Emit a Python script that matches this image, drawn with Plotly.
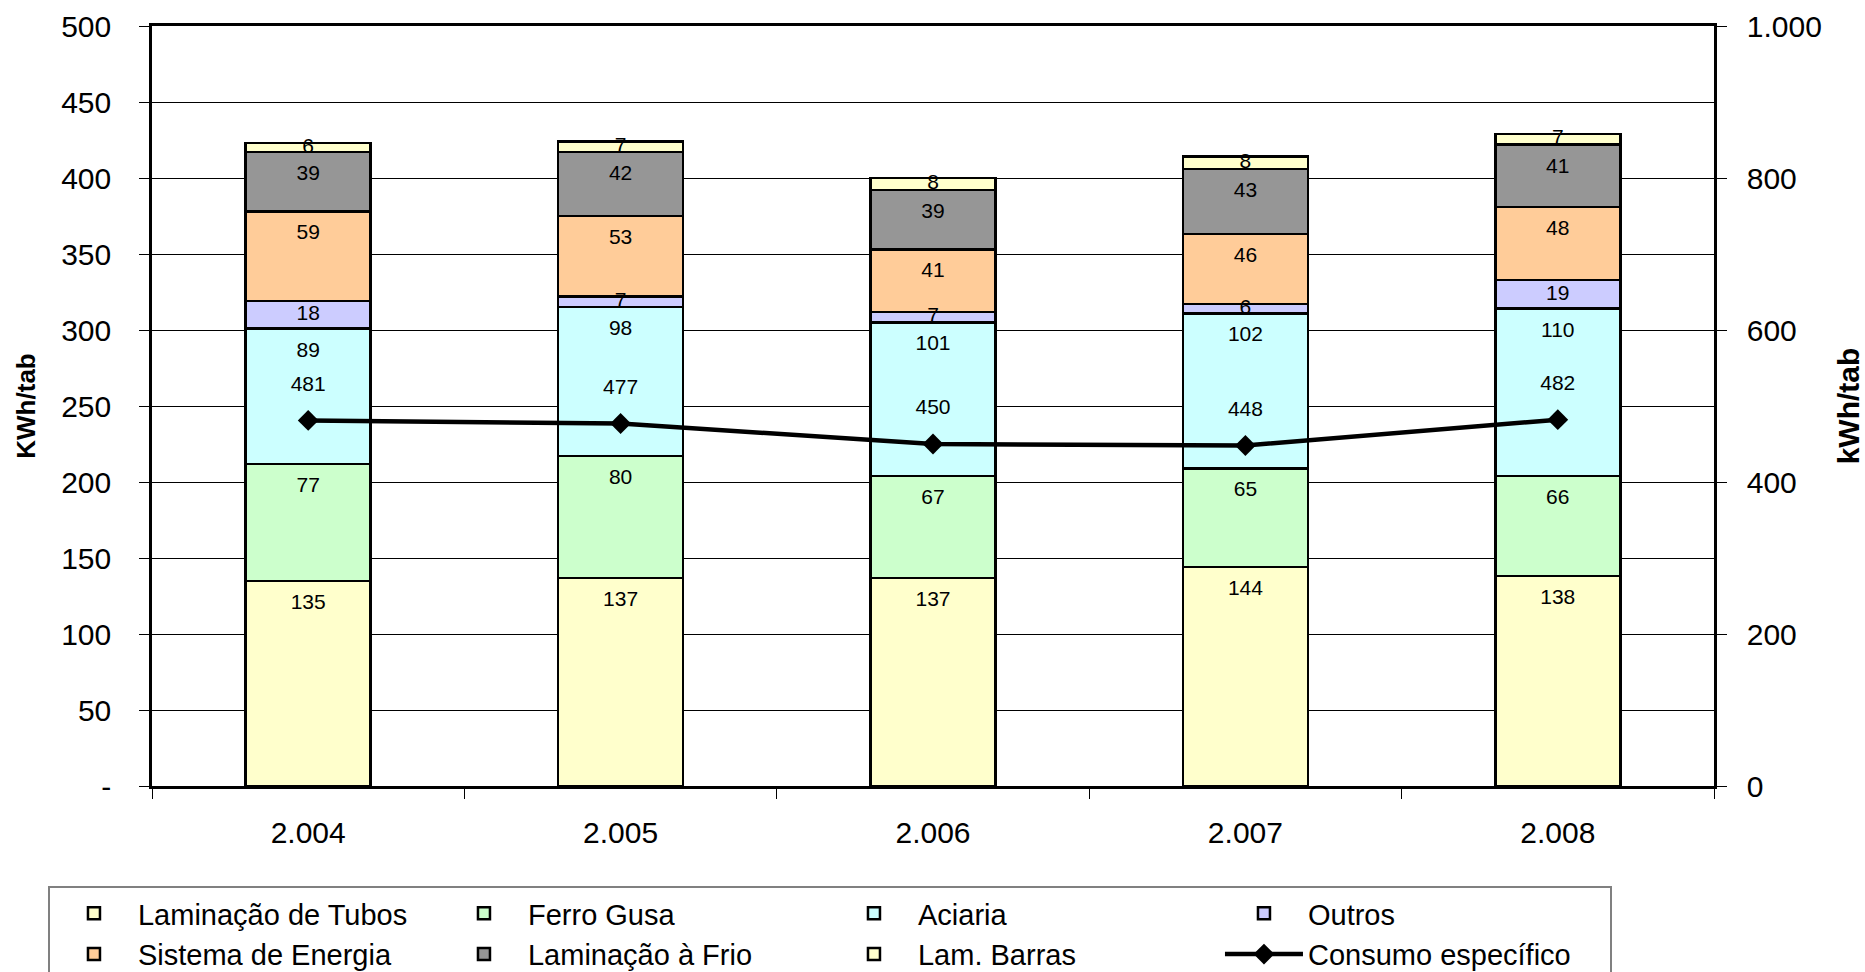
import plotly.graph_objects as go

categories = ["2.004", "2.005", "2.006", "2.007", "2.008"]

lam_tubos = [135, 137, 137, 144, 138]
ferro_gusa = [77, 80, 67, 65, 66]
aciaria = [89, 98, 101, 102, 110]
outros = [18, 7, 7, 6, 19]
sistema_energia = [59, 53, 41, 46, 48]
laminacao_frio = [39, 42, 39, 43, 41]
lam_barras = [6, 7, 8, 8, 7]
consumo = [481, 477, 450, 448, 482]

series_names = ["Laminação de Tubos", "Ferro Gusa", "Aciaria", "Outros",
                "Sistema de Energia", "Laminação à Frio", "Lam. Barras"]
series_values = [lam_tubos, ferro_gusa, aciaria, outros,
                 sistema_energia, laminacao_frio, lam_barras]
series_colors = ["#FFFFCC", "#CCFFCC", "#CCFFFF", "#CCCCFF",
                 "#FFCC99", "#969696", "#FFFFCC"]

y_tickvals = [0, 50, 100, 150, 200, 250, 300, 350, 400, 450, 500]
y_ticktext = ["-", "50", "100", "150", "200", "250", "300", "350", "400", "450", "500"]
y2_tickvals = [0, 200, 400, 600, 800, 1000]
y2_ticktext = ["0", "200", "400", "600", "800", "1.000"]

FONT = "Liberation Sans, Arial, sans-serif"

fig = go.Figure()

base = [0] * len(categories)
label_traces = []
for name, vals, col in zip(series_names, series_values, series_colors):
    fig.add_trace(go.Bar(
        x=categories, y=vals, name=name,
        marker=dict(color=col, line=dict(color="black", width=2.5)),
        width=0.4, hoverinfo="x+y+name",
    ))
    ys = [max(b + v / 2.0, b + v - 15) for b, v in zip(base, vals)]
    label_traces.append(go.Scatter(
        x=categories, y=ys, text=[str(v) for v in vals], mode="text",
        textposition="middle center", showlegend=False, hoverinfo="skip",
        textfont=dict(family=FONT, size=21, color="black"), cliponaxis=False,
    ))
    base = [b + v for b, v in zip(base, vals)]

for t in label_traces:
    fig.add_trace(t)

fig.add_trace(go.Scatter(
    x=categories, y=consumo, name="Consumo específico", yaxis="y2",
    mode="lines+markers",
    line=dict(color="black", width=4.5),
    marker=dict(symbol="diamond", size=16, color="black"),
))
fig.add_trace(go.Scatter(
    x=categories, y=[c + 46 for c in consumo], text=[str(c) for c in consumo],
    yaxis="y2", mode="text", textposition="middle center", showlegend=False,
    hoverinfo="skip", textfont=dict(family=FONT, size=21, color="black"),
    cliponaxis=False,
))

fig.update_layout(
    width=1865, height=972,
    barmode="stack",
    paper_bgcolor="white", plot_bgcolor="white",
    font=dict(family=FONT, color="black"),
    margin=dict(l=152, r=151, t=26, b=186, pad=0, autoexpand=False),
    xaxis=dict(
        type="category", showgrid=False,
        showline=True, linecolor="black", linewidth=2.5, mirror=True,
        ticks="outside", ticklen=10, tickcolor="black", tickwidth=1,
        tickson="boundaries",
        tickfont=dict(family=FONT, size=30, color="black"),
        ticklabelstandoff=18,
    ),
    yaxis=dict(
        range=[0, 500], tickvals=y_tickvals, ticktext=y_ticktext,
        showgrid=True, gridcolor="black", gridwidth=1,
        showline=True, linecolor="black", linewidth=2.5,
        ticks="outside", ticklen=10, tickcolor="black", tickwidth=1,
        tickfont=dict(family=FONT, size=30, color="black"),
        ticklabelstandoff=22, zeroline=False,
        title=dict(text="<b>KWh/tab</b>", font=dict(family=FONT, size=26, color="black"),
                   standoff=19),
    ),
    yaxis2=dict(
        range=[0, 1000], tickvals=y2_tickvals, ticktext=y2_ticktext,
        overlaying="y", side="right", showgrid=False, zeroline=False,
        showline=True, linecolor="black", linewidth=2.5,
        ticks="outside", ticklen=10, tickcolor="black", tickwidth=1,
        tickfont=dict(family=FONT, size=30, color="black"),
        ticklabelstandoff=14,
        title=dict(text="<b>kWh/tab</b>", font=dict(family=FONT, size=30, color="black"),
                   standoff=18),
    ),
    legend=dict(
        orientation="h", traceorder="normal",
        x=-0.0666, xanchor="left", y=-0.1316, yanchor="top",
        entrywidth=297, entrywidthmode="pixels", itemwidth=78,
        bordercolor="#808080", borderwidth=2, bgcolor="white",
        font=dict(family=FONT, size=29, color="black"),
    ),
    showlegend=True,
)

fig.write_html("out.html")
